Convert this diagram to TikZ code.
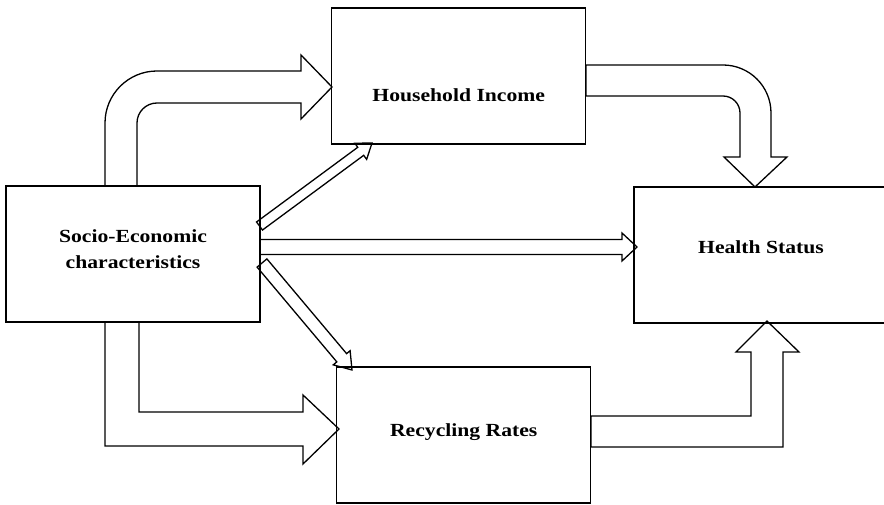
\documentclass[tikz,border=0pt]{standalone}
\usepackage{fontspec}
\setmainfont[FakeStretch=1.17]{Liberation Serif}
\usetikzlibrary{calc}
\tikzset{
  box/.style={draw, line width=1.3pt, minimum width=254pt, minimum height=136pt, inner sep=0pt},
  lbl/.style={font=\bfseries\fontsize{18.5}{26}\selectfont, align=center, inner sep=0pt},
  arr/.style={draw, line width=1.3pt, fill=white, line join=miter},
}
\newcommand\blockarr[5]{%
  \coordinate (tmpH) at ($(#2)!#5!(#1)$);
  \draw[arr] ($(#1)!#3!90:(#2)$) -- ($(tmpH)!#3!90:(#2)$) -- ($(tmpH)!#4!90:(#2)$) -- (#2)
    -- ($(tmpH)!#4!-90:(#2)$) -- ($(tmpH)!#3!-90:(#2)$) -- ($(#1)!#3!-90:(#2)$) -- cycle;}
\begin{document}
\begin{tikzpicture}[x=1pt,y=-1pt]
\useasboundingbox (0,0) rectangle (884,505);
% arrow end points
\coordinate (d1a) at (259.5,226);
\coordinate (d1b) at (372,143);
\coordinate (m1a) at (260,247);
\coordinate (m1b) at (637,247);
\coordinate (d2a) at (262,263);
\coordinate (d2b) at (352,370);
% curved arrow: socio -> household
\draw[arr] (105,186) -- (105,123) arc[start angle=180, end angle=270, radius=52]
  -- (301,71) -- (301,55) -- (332,87) -- (301,119) -- (301,103) -- (157,103)
  arc[start angle=270, end angle=180, radius=20] -- (137,186) -- cycle;
% curved arrow: household -> health
\draw[arr] (586,65) -- (723,65) arc[start angle=270, end angle=360, radius=48]
  -- (771,157) -- (787,157) -- (755,187) -- (724,157) -- (740,157) -- (740,113)
  arc[start angle=0, end angle=-90, radius=17] -- (586,96) -- cycle;
% L arrow: socio -> recycling
\draw[arr] (105,322) -- (105,446) -- (303,446) -- (303,464) -- (339,429) -- (303,395)
  -- (303,412) -- (139,412) -- (139,322) -- cycle;
% L arrow: recycling -> health
\draw[arr] (591,447) -- (783,447) -- (783,352) -- (799,352) -- (767,321) -- (736,352)
  -- (751,352) -- (751,416) -- (591,416) -- cycle;
% straight arrows
\blockarr{d1a}{d1b}{5pt}{10pt}{14pt}
\blockarr{m1a}{m1b}{7.5pt}{14pt}{15pt}
\blockarr{d2a}{d2b}{6.4pt}{11pt}{16pt}
% boxes
\node[box] (se) at (133,254) {};
\node[box] (hi) at (458.75,76) {};
\node[box] (hs) at (761,255) {};
\node[box] (rr) at (463.75,435) {};
% labels
\node[lbl] (tse) at (133,249) {Socio-Economic\\characteristics};
\node[lbl] (thi) at (458.75,95) {Household Income};
\node[lbl] (ths) at (761,247) {Health Status};
\node[lbl] (trr) at (463.75,432) {Recycling Rates};
\end{tikzpicture}
\end{document}
